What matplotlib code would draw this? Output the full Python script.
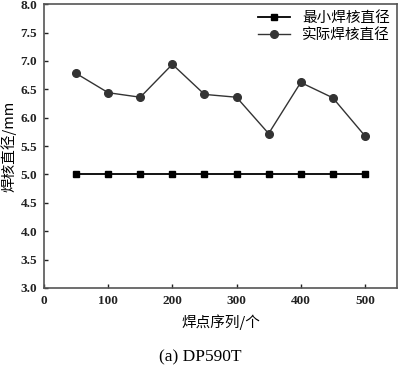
import matplotlib
matplotlib.use('Agg')
import matplotlib.pyplot as plt

# weld point index, minimum nugget diameter, measured nugget diameter
points = [50, 100, 150, 200, 250, 300, 350, 400, 450, 500]
min_diam = [5.0, 5.0, 5.0, 5.0, 5.0, 5.0, 5.0, 5.0, 5.0, 5.0]
real_diam = [6.78, 6.44, 6.36, 6.94, 6.41, 6.36, 5.72, 6.62, 6.35, 5.68]
xticks = [0, 100, 200, 300, 400, 500]
yticks = [3.0, 3.5, 4.0, 4.5, 5.0, 5.5, 6.0, 6.5, 7.0, 7.5, 8.0]

cjk = ['Noto Sans CJK SC', 'DejaVu Sans']
num_font = dict(family='Liberation Serif', fontweight='bold', fontsize=9.5)

fig = plt.figure(figsize=(4.0, 3.75), dpi=100)
ax = fig.add_axes([0.11, 0.232, 0.8825, 0.757])

ax.plot(points, min_diam, '-', color='black', linewidth=1.3,
        marker='s', markersize=5, label='最小焊核直径')
ax.plot(points, real_diam, '-', color='#333333', linewidth=1.0,
        marker='o', markersize=5.5, label='实际焊核直径')

ax.set_xlim(0, 550)
ax.set_ylim(3.0, 8.0)
ax.set_xticks(xticks)
ax.set_yticks(yticks)
ax.set_xticklabels([str(v) for v in xticks], **num_font)
ax.set_yticklabels([f'{v:.1f}' for v in yticks], **num_font)
ax.tick_params(direction='in', length=3, width=1, pad=5, colors='#222222')
for s in ax.spines.values():
    s.set_color('#555555')
    s.set_linewidth(1.2)

ax.set_xlabel('焊点序列/个', family=cjk, fontsize=10.5, labelpad=5)
ax.set_ylabel('焊核直径/mm', family=cjk, fontsize=10.5, labelpad=3)

leg = ax.legend(loc='upper right', frameon=False, prop={'family': cjk, 'size': 10.5},
                handlelength=2.2, borderaxespad=0.1, labelspacing=0.2)

fig.text(0.5, 0.047, '(a) DP590T', family='Liberation Serif', fontsize=12.5,
         ha='center', va='center')

fig.savefig('out.png', dpi=100)
